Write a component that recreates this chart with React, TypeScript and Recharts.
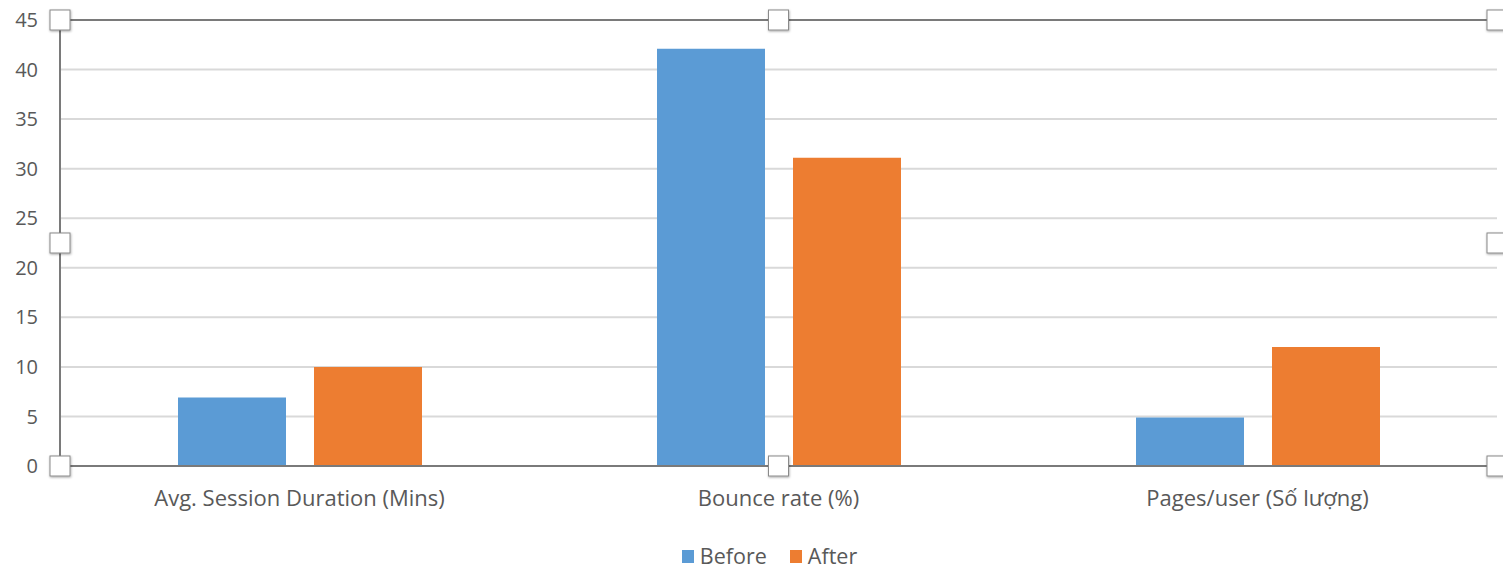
import { Bar, BarChart, CartesianGrid, Legend, ReferenceLine, XAxis, YAxis } from 'recharts'

const categories = ['Avg. Session Duration (Mins)', 'Bounce rate (%)', 'Pages/user (Số lượng)']
const beforeValues = [6.9, 42.1, 4.9]
const afterValues = [10, 31.1, 12]
const yTicks = [0, 5, 10, 15, 20, 25, 30, 35, 40, 45]
const seriesNames = ['Before', 'After']
const seriesColors = ['#5B9BD5', '#ED7D31']

const data = categories.map((name, i) => ({ name, Before: beforeValues[i], After: afterValues[i] }))

const W = 1503
const H = 571
const margin = { top: 20, right: 6, left: 0, bottom: 0 }
const yAxisWidth = 60
const xAxisHeight = 83
const font = '"Open Sans", sans-serif'
const textColor = '#595959'
const frameColor = '#7a7a7a'

function LegendContent() {
  return (
    <div style={{ display: 'flex', justifyContent: 'center', gap: 23, paddingLeft: 42, fontFamily: font, fontSize: 21.5, lineHeight: '22px', color: textColor }}>
      {seriesNames.map((name, i) => (
        <div key={name} style={{ display: 'flex', alignItems: 'center', gap: 6 }}>
          <span style={{ display: 'inline-block', width: 12, height: 13, background: seriesColors[i] }} />
          <span>{name}</span>
        </div>
      ))}
    </div>
  )
}

// selection handles around the plot frame (PowerPoint-style)
function Handles() {
  const left = margin.left + yAxisWidth
  const right = W - margin.right
  const top = margin.top
  const bottom = 466
  const midX = (left + right) / 2
  const midY = (top + bottom) / 2
  const pts = [
    [left, top], [midX, top], [right, top],
    [left, midY], [right, midY],
    [left, bottom], [midX, bottom], [right, bottom],
  ]
  return (
    <svg width={W} height={H} style={{ position: 'absolute', left: 0, top: 0, pointerEvents: 'none' }}>
      <defs>
        <filter id="hs" x="-50%" y="-50%" width="200%" height="200%">
          <feDropShadow dx="0.5" dy="1" stdDeviation="0.8" floodColor="#000" floodOpacity="0.35" />
        </filter>
      </defs>
      {pts.map(([x, y], i) => (
        <rect key={i} x={x - 10} y={y - 10} width={20} height={20} fill="#fff" stroke="#8a8a8a" strokeWidth={1} filter="url(#hs)" />
      ))}
    </svg>
  )
}

export default function App() {
  return (
    <div style={{ position: 'absolute', left: 0, top: 0, width: W, height: H, background: '#fff' }}>
      <BarChart width={W} height={H} data={data} margin={margin} barGap={28} barSize={108}>
        <CartesianGrid vertical={false} stroke="#d9d9d9" strokeWidth={2} />
        <XAxis
          dataKey="name"
          height={xAxisHeight}
          tickLine={false}
          tickSize={0}
          tickMargin={24}
          axisLine={{ stroke: frameColor, strokeWidth: 2 }}
          tick={{ fill: textColor, fontSize: 22, fontFamily: font }}
        />
        <YAxis
          width={yAxisWidth}
          domain={[0, 45]}
          ticks={yTicks}
          interval={0}
          tickLine={false}
          tickSize={0}
          tickMargin={22}
          axisLine={{ stroke: frameColor, strokeWidth: 2 }}
          tick={{ fill: textColor, fontSize: 20, fontFamily: font }}
        />
        <YAxis yAxisId="frame" orientation="right" width={0} tick={false} tickLine={false} axisLine={{ stroke: frameColor, strokeWidth: 2 }} />
        <ReferenceLine y={45} stroke={frameColor} strokeWidth={2} />
        <Legend verticalAlign="bottom" content={<LegendContent />} wrapperStyle={{ bottom: 4 }} />
        {seriesNames.map((name, i) => (
          <Bar key={name} dataKey={name} fill={seriesColors[i]} isAnimationActive={false} />
        ))}
      </BarChart>
      <Handles />
    </div>
  )
}
